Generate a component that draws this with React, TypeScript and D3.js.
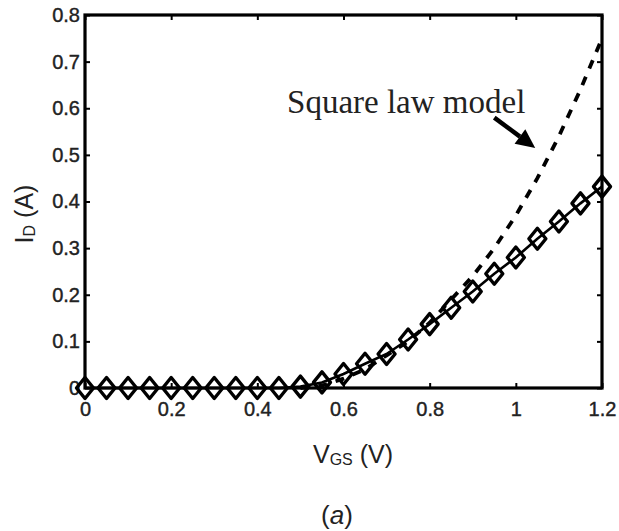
import React, { useRef, useEffect } from "react";
import * as d3 from "d3";

// gate voltage sweep (V) and measured drain current (A)
const vgs = [
  0, 0.05, 0.1, 0.15, 0.2, 0.25, 0.3, 0.35, 0.4, 0.45, 0.5, 0.55, 0.6, 0.65,
  0.7, 0.75, 0.8, 0.85, 0.9, 0.95, 1.0, 1.05, 1.1, 1.15, 1.2,
];
const idMeasured = [
  0, 0, 0, 0, 0, 0, 0, 0, 0, 0, 0.003, 0.012, 0.03, 0.052, 0.073, 0.104, 0.137,
  0.172, 0.207, 0.245, 0.28, 0.32, 0.357, 0.396, 0.432,
];

// square law model curve (dashed)
const squareV = [
  0.5, 0.55, 0.6, 0.65, 0.7, 0.75, 0.8, 0.85, 0.9, 0.95, 1.0, 1.05, 1.1, 1.15,
  1.2,
];
const squareI = [
  0, 0.005, 0.02, 0.04, 0.07, 0.1, 0.14, 0.19, 0.24, 0.3, 0.37, 0.45, 0.54,
  0.64, 0.75,
];

const xTicks = [0, 0.2, 0.4, 0.6, 0.8, 1.0, 1.2];
const yTicks = [0, 0.1, 0.2, 0.3, 0.4, 0.5, 0.6, 0.7, 0.8];

// annotation: text anchor and arrow (data coords)
const noteText = "Square law model";
const notePos = [0.469, 0.59];
const arrowFrom = [0.95, 0.58];
const arrowTo = [1.045, 0.515];

const W = 619;
const H = 531;
const left = 85;
const right = 602;
const top = 15;
const bottom = 388;

const App = () => {
  const svgRef = useRef(null);

  useEffect(() => {
    const svg = d3.select(svgRef.current);
    svg.selectAll("*").remove();

    const x = d3.scaleLinear().domain([0, 1.2]).range([left, right]);
    const y = d3.scaleLinear().domain([0, 0.8]).range([bottom, top]);

    const sans = "Liberation Sans, Arial, sans-serif";
    const textCol = "#222";

    const fmt = (d) => (d === 0 ? "0" : d === 1 ? "1" : String(d));

    // axes (ticks inside)
    const styleAxis = (g, showLabels) => {
      g.select(".domain").remove();
      g.selectAll(".tick line").attr("stroke", "#000").attr("stroke-width", 2);
      g.selectAll(".tick text")
        .attr("fill", textCol)
        .attr("stroke", textCol)
        .attr("stroke-width", 0.4)
        .attr("font-family", sans)
        .attr("font-size", 20);
      if (!showLabels) g.selectAll(".tick text").remove();
    };

    svg
      .append("g")
      .attr("transform", `translate(0, ${bottom})`)
      .call(d3.axisBottom(x).tickValues(xTicks).tickSize(-5).tickPadding(14).tickFormat(fmt))
      .call((g) => styleAxis(g, true));

    svg
      .append("g")
      .attr("transform", `translate(0, ${top})`)
      .call(d3.axisTop(x).tickValues(xTicks).tickSize(-5))
      .call((g) => styleAxis(g, false));

    svg
      .append("g")
      .attr("transform", `translate(${left}, 0)`)
      .call(d3.axisLeft(y).tickValues(yTicks).tickSize(-5).tickPadding(5).tickFormat(fmt))
      .call((g) => styleAxis(g, true));

    svg
      .append("g")
      .attr("transform", `translate(${right}, 0)`)
      .call(d3.axisRight(y).tickValues(yTicks).tickSize(-5))
      .call((g) => styleAxis(g, false));

    // box
    svg
      .append("rect")
      .attr("x", left)
      .attr("y", top)
      .attr("width", right - left)
      .attr("height", bottom - top)
      .attr("fill", "none")
      .attr("stroke", "#000")
      .attr("stroke-width", 3.2);

    // square law dashed curve
    const sq = squareV.map((v, i) => [v, squareI[i]]);
    const line = d3
      .line()
      .x((d) => x(d[0]))
      .y((d) => y(d[1]));

    svg
      .append("path")
      .datum(sq)
      .attr("d", line)
      .attr("fill", "none")
      .attr("stroke", "#000")
      .attr("stroke-width", 3.8)
      .attr("stroke-dasharray", "9,9");

    // measured curve with diamonds
    const meas = vgs.map((v, i) => [v, idMeasured[i]]);
    svg
      .append("path")
      .datum(meas)
      .attr("d", line)
      .attr("fill", "none")
      .attr("stroke", "#000")
      .attr("stroke-width", 2.6);

    const dw = 8.5;
    const dh = 10.5;
    svg
      .selectAll("path.diamond")
      .data(meas)
      .enter()
      .append("path")
      .attr("class", "diamond")
      .attr(
        "d",
        (d) =>
          `M${x(d[0])},${y(d[1]) - dh}L${x(d[0]) + dw},${y(d[1])}L${x(d[0])},${y(d[1]) + dh}L${x(d[0]) - dw},${y(d[1])}Z`
      )
      .attr("fill", "none")
      .attr("stroke", "#000")
      .attr("stroke-width", 3.4)
      .attr("stroke-linejoin", "round");

    // annotation
    svg
      .append("text")
      .attr("x", x(notePos[0]))
      .attr("y", y(notePos[1]))
      .attr("font-family", "Liberation Serif, Times New Roman, serif")
      .attr("font-size", 33)
      .attr("fill", textCol)
      .text(noteText);

    const x1 = x(arrowFrom[0]);
    const y1 = y(arrowFrom[1]);
    const x2 = x(arrowTo[0]);
    const y2 = y(arrowTo[1]);
    const ang = Math.atan2(y2 - y1, x2 - x1);
    const hl = 19;
    const hw = 9;
    const bx = x2 - hl * Math.cos(ang);
    const by = y2 - hl * Math.sin(ang);
    svg
      .append("line")
      .attr("x1", x1)
      .attr("y1", y1)
      .attr("x2", bx)
      .attr("y2", by)
      .attr("stroke", "#000")
      .attr("stroke-width", 4.5);
    svg
      .append("path")
      .attr(
        "d",
        `M${x2},${y2}L${bx - hw * Math.sin(ang)},${by + hw * Math.cos(ang)}L${bx + hw * Math.sin(ang)},${by - hw * Math.cos(ang)}Z`
      )
      .attr("fill", "#000");

    // axis titles
    const xl = svg
      .append("text")
      .attr("x", 353)
      .attr("y", 463)
      .attr("text-anchor", "middle")
      .attr("font-family", sans)
      .attr("font-size", 25)
      .attr("fill", textCol);
    xl.append("tspan").text("V");
    xl.append("tspan").attr("font-size", 16).attr("dy", 2).text("GS");
    xl.append("tspan").attr("dy", -2).text(" (V)");

    const yl = svg
      .append("text")
      .attr("transform", `translate(33, 214) rotate(-90)`)
      .attr("text-anchor", "middle")
      .attr("font-family", sans)
      .attr("font-size", 25)
      .attr("fill", textCol);
    yl.append("tspan").text("I");
    yl.append("tspan").attr("font-size", 16).attr("dy", 2).text("D");
    yl.append("tspan").attr("dy", -2).text(" (A)");

    const cap = svg
      .append("text")
      .attr("x", 337)
      .attr("y", 524)
      .attr("text-anchor", "middle")
      .attr("font-family", sans)
      .attr("font-size", 26)
      .attr("fill", textCol);
    cap.append("tspan").text("(");
    cap.append("tspan").attr("font-style", "italic").text("a");
    cap.append("tspan").text(")");
  }, []);

  return (
    <div style={{ position: "fixed", left: 0, top: 0, background: "#fff" }}>
      <svg ref={svgRef} width={W} height={H}></svg>
    </div>
  );
};

export default App;
